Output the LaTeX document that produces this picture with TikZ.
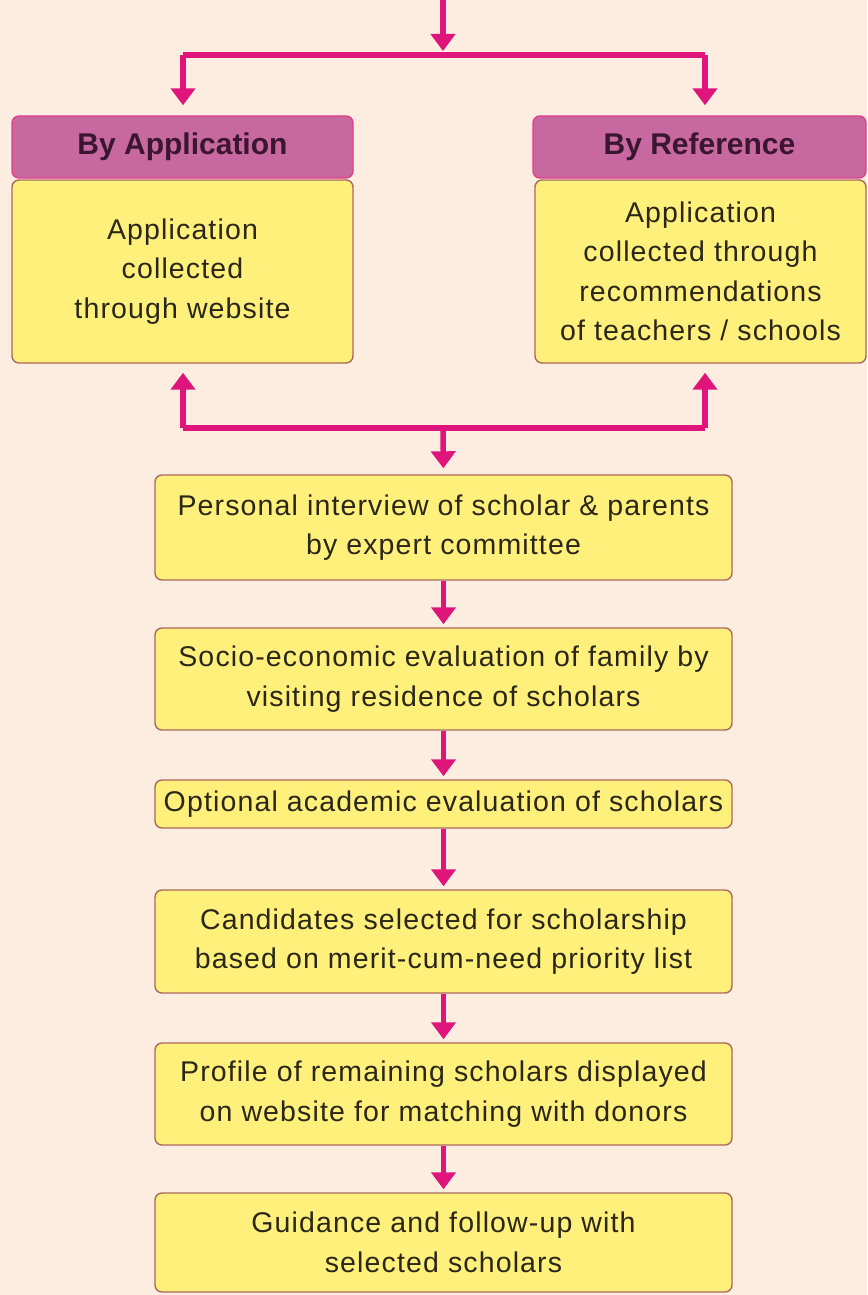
\documentclass[tikz,border=0pt]{standalone}
\usepackage{fontspec}
\setmainfont[LetterSpace=4]{Liberation Sans}
\newfontfamily\hdrfont{Liberation Sans}
\usetikzlibrary{arrows.meta}
\definecolor{bgc}{HTML}{FDEDE0}
\definecolor{yel}{HTML}{FFF07C}
\definecolor{boxline}{HTML}{A86A5C}
\definecolor{hdrfill}{HTML}{C868A0}
\definecolor{hdrline}{HTML}{E0408A}
\definecolor{hdrtext}{HTML}{3A1630}
\definecolor{mag}{HTML}{E0157C}
\definecolor{txt}{HTML}{2A2618}
\begin{document}
\begin{tikzpicture}[x=1pt,y=-1pt,
  bodybox/.style={draw=boxline,line width=1.4pt,fill=yel,rounded corners=7pt,
    inner sep=0pt,align=center,text=txt,
    font=\fontsize{28.5}{39.5}\selectfont},
  hdrbox/.style={draw=hdrline,line width=1.4pt,fill=hdrfill,rounded corners=7pt,
    inner sep=0pt,align=center,text=hdrtext,
    font=\hdrfont\bfseries\fontsize{30}{34}\selectfont},
  conn/.style={draw=mag,line width=5.5pt},
  arr/.style={draw=mag,line width=5.5pt,-{Triangle[width=24pt,length=17pt]}}]
\fill[bgc] (0,0) rectangle (867,1295);
\useasboundingbox (0,0) rectangle (867,1295);

\node[hdrbox,minimum width=341pt,minimum height=62pt] (hdrL) at (182.5,147) {By Application};
\node[bodybox,minimum width=341pt,minimum height=183pt] (bodyL) at (182.5,271.5)
  {Application\\collected\\through website};
\node[hdrbox,minimum width=333pt,minimum height=62pt] (hdrR) at (699.5,147) {By Reference};
\node[bodybox,minimum width=331pt,minimum height=183pt] (bodyR) at (700.5,271.5)
  {Application\\collected through\\recommendations\\of teachers / schools};

\node[bodybox,minimum width=577pt,minimum height=105pt] (b1) at (443.5,527.5)
  {Personal interview of scholar \& parents\\by expert committee};
\node[bodybox,minimum width=577pt,minimum height=102pt] (b2) at (443.5,679)
  {Socio-economic evaluation of family by\\visiting residence of scholars};
\node[bodybox,minimum width=577pt,minimum height=48pt] (b3) at (443.5,804)
  {Optional academic evaluation of scholars};
\node[bodybox,minimum width=577pt,minimum height=103pt] (b4) at (443.5,941.5)
  {Candidates selected for scholarship\\based on merit-cum-need priority list};
\node[bodybox,minimum width=577pt,minimum height=102pt] (b5) at (443.5,1094)
  {Profile of remaining scholars displayed\\on website for matching with donors};
\node[bodybox,minimum width=577pt,minimum height=99pt] (b6) at (443.5,1242.5)
  {Guidance and follow-up with\\selected scholars};

% top split
\coordinate (top) at (443,-2);
\coordinate (split) at (443,55);
\coordinate (splitL) at (183,55);
\coordinate (splitR) at (705,55);
\draw[arr,shorten >=4pt] (top) -- (split);
\draw[conn] (splitL) -- (splitR);
\draw[arr,shorten >=10pt] (splitL) -- (splitL |- hdrL.north);
\draw[arr,shorten >=10pt] (splitR) -- (splitR |- hdrR.north);

% bottom join
\coordinate (joinL) at (183,428);
\coordinate (joinR) at (705,428);
\coordinate (joinM) at (443,428);
\draw[conn] (joinL) -- (joinR);
\draw[arr,shorten >=9pt] (joinL) -- (joinL |- bodyL.south);
\draw[arr,shorten >=9pt] (joinR) -- (joinR |- bodyR.south);
\draw[arr,shorten >=6pt] (joinM) -- (b1.north);

% chain
\draw[arr,shorten >=3pt] (b1) -- (b2);
\draw[arr,shorten >=3pt] (b2) -- (b3);
\draw[arr,shorten >=3pt] (b3) -- (b4);
\draw[arr,shorten >=3pt] (b4) -- (b5);
\draw[arr,shorten >=3pt] (b5) -- (b6);
\end{tikzpicture}
\end{document}
